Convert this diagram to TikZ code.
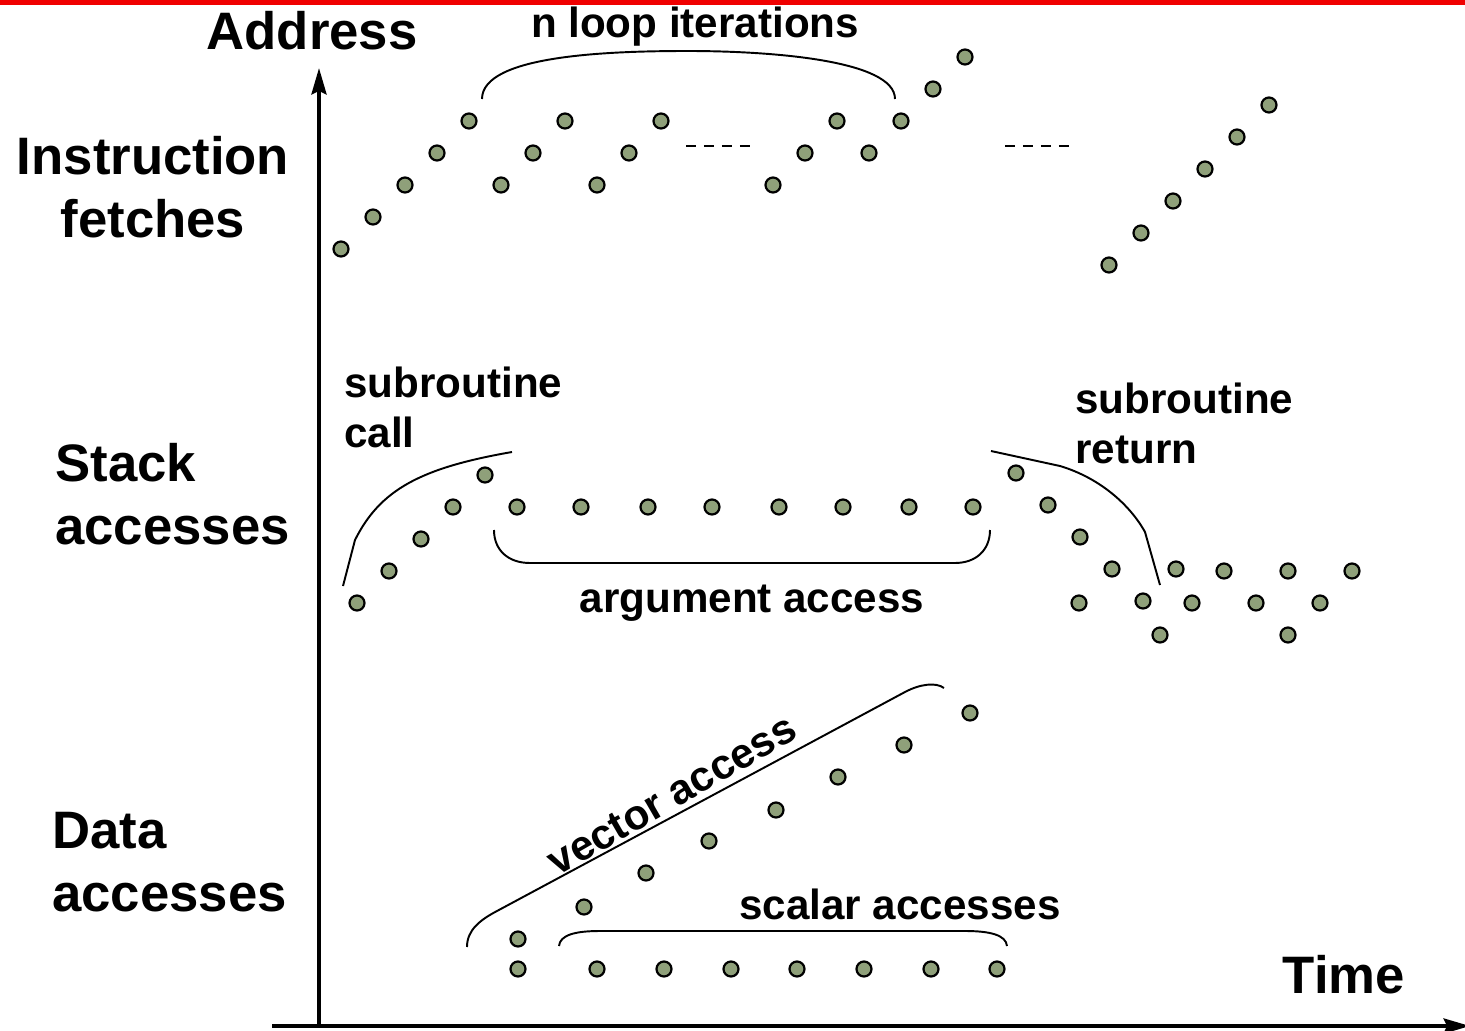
\documentclass[tikz,border=0pt]{standalone}
\usepackage{fontspec}
\setmainfont{Liberation Sans}
\usepackage{tkz-graph}
\usetikzlibrary{arrows.meta}
\definecolor{dotgreen}{RGB}{143,160,122}
\definecolor{topred}{RGB}{240,0,0}
\tikzset{
  big/.style={font=\fontsize{30}{35.7}\selectfont\bfseries, inner sep=0pt},
  small/.style={font=\fontsize{24}{28.3}\selectfont\bfseries, inner sep=0pt},
  brace/.style={line width=1.1pt},
  axis/.style={line width=2.3pt, -{Stealth[length=15pt,width=8.5pt,inset=2pt]}}
}

\begin{document}
\begin{tikzpicture}[x=0.02cm,y=-0.02cm]
\useasboundingbox (0,0) rectangle (1465,1031);
\GraphInit[vstyle=Normal]
\tikzset{VertexStyle/.style={shape=circle, draw=black, line width=1.25pt,
  fill=dotgreen, inner sep=0pt, minimum size=0.3cm}}
\SetVertexNoLabel
\fill[topred] (0,0) rectangle (1465,5);
% axes
\draw[axis] (319,1026) -- (319,68);
\draw[axis] (272,1026) -- (1470,1026);
\node[big, anchor=base] (addr) at (312,50) {Address};
\node[big, anchor=base] (time) at (1344,993) {Time};
\node[big, anchor=north, align=center] (instr) at (153,136) {Instruction\\fetches};
\node[big, anchor=north west, align=left] (stack) at (55,443) {Stack\\accesses};
\node[big, anchor=north west, align=left] (data) at (52,812) {Data\\accesses};
% instruction fetches
\Vertex[x=341,y=249]{i1}
\Vertex[x=373,y=217]{i2}
\Vertex[x=405,y=185]{i3}
\Vertex[x=437,y=153]{i4}
\Vertex[x=469,y=121]{i5}
\Vertex[x=501,y=185]{i6}
\Vertex[x=533,y=153]{i7}
\Vertex[x=565,y=121]{i8}
\Vertex[x=597,y=185]{i9}
\Vertex[x=629,y=153]{i10}
\Vertex[x=661,y=121]{i11}
\Vertex[x=773,y=185]{i12}
\Vertex[x=805,y=153]{i13}
\Vertex[x=837,y=121]{i14}
\Vertex[x=869,y=153]{i15}
\Vertex[x=901,y=121]{i16}
\Vertex[x=933,y=89]{i17}
\Vertex[x=965,y=57]{i18}
\Vertex[x=1109,y=265]{i19}
\Vertex[x=1141,y=233]{i20}
\Vertex[x=1173,y=201]{i21}
\Vertex[x=1205,y=169]{i22}
\Vertex[x=1237,y=137]{i23}
\Vertex[x=1269,y=105]{i24}
\draw[line width=1.1pt, dash pattern=on 5.7pt off 4.5pt] (686,146) -- (750,146);
\draw[line width=1.1pt, dash pattern=on 5.7pt off 4.5pt] (1005,146) -- (1069,146);
\draw[brace] (482,99) .. controls (482,55) and (610,51) .. (688,51)
  .. controls (770,51) and (895,60) .. (895,99);
\node[small, anchor=base] (loop) at (695,37) {n loop iterations};
% stack accesses
\Vertex[x=357,y=603]{s1}
\Vertex[x=389,y=571]{s2}
\Vertex[x=421,y=539]{s3}
\Vertex[x=453,y=507]{s4}
\Vertex[x=485,y=475]{s5}
\Vertex[x=517,y=507]{s6}
\Vertex[x=581,y=507]{s7}
\Vertex[x=648,y=507]{s8}
\Vertex[x=712,y=507]{s9}
\Vertex[x=779,y=507]{s10}
\Vertex[x=843,y=507]{s11}
\Vertex[x=909,y=507]{s12}
\Vertex[x=973,y=507]{s13}
\Vertex[x=1016,y=473]{s14}
\Vertex[x=1048,y=505]{s15}
\Vertex[x=1080,y=537]{s16}
\Vertex[x=1112,y=569]{s17}
\Vertex[x=1079,y=603]{s18}
\Vertex[x=1143,y=601]{s19}
\Vertex[x=1160,y=635]{s20}
\Vertex[x=1176,y=569]{s21}
\Vertex[x=1192,y=603]{s22}
\Vertex[x=1224,y=571]{s23}
\Vertex[x=1256,y=603]{s24}
\Vertex[x=1288,y=571]{s25}
\Vertex[x=1288,y=635]{s26}
\Vertex[x=1320,y=603]{s27}
\Vertex[x=1352,y=571]{s28}
\draw[brace] (343,586) -- (355,540) .. controls (380,490) and (420,468) .. (512,452);
\draw[brace] (991,451) -- (1060,466) .. controls (1100,478) and (1130,505) .. (1145,532) -- (1160,585);
\draw[brace] (494,530) .. controls (494,550) and (508,563) .. (530,563) -- (955,563)
  .. controls (976,563) and (990,550) .. (990,530);
\node[small, anchor=north west, align=left] (call) at (344,367) {subroutine\\call};
\node[small, anchor=north west, align=left] (ret) at (1075,383) {subroutine\\return};
\node[small, anchor=base] (arg) at (752,612) {argument access};
% data accesses
\Vertex[x=518,y=939]{d1}
\Vertex[x=584,y=907]{d2}
\Vertex[x=646,y=873]{d3}
\Vertex[x=709,y=841]{d4}
\Vertex[x=776,y=810]{d5}
\Vertex[x=838,y=777]{d6}
\Vertex[x=904,y=745]{d7}
\Vertex[x=970,y=713]{d8}
\Vertex[x=518,y=969]{d9}
\Vertex[x=597,y=969]{d10}
\Vertex[x=664,y=969]{d11}
\Vertex[x=731,y=969]{d12}
\Vertex[x=797,y=969]{d13}
\Vertex[x=864,y=969]{d14}
\Vertex[x=931,y=969]{d15}
\Vertex[x=997,y=969]{d16}
\draw[brace] (467,947) .. controls (467,930) and (480,920) .. (497,911) -- (905,692)
  .. controls (920,684) and (936,682) .. (944,688);
\draw[brace] (559,946) .. controls (560,935) and (575,931) .. (600,931) -- (965,931)
  .. controls (990,931) and (1006,935) .. (1007,946);
\node[small, rotate=30] (vec) at (672,795) {vector access};
\node[small, anchor=base] (scal) at (900,919) {scalar accesses};
\end{tikzpicture}
\end{document}
